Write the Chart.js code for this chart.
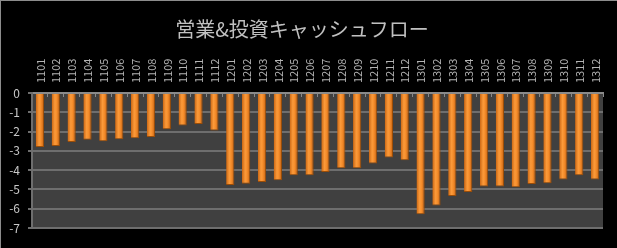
<!DOCTYPE html>
<html><head><meta charset="utf-8">
<script src="https://cdn.jsdelivr.net/npm/chart.js@4/dist/chart.umd.min.js"></script>
<style>
html,body{margin:0;padding:0;background:#000;}
#wrap{width:616px;height:247px;border-top:1px solid #8c8c8c;border-left:1px solid #8c8c8c;background:#000;}
</style></head>
<body><div id="wrap"><canvas id="c" width="616" height="247"></canvas></div>
<script>
const categories = ['1101','1102','1103','1104','1105','1106','1107','1108','1109','1110','1111','1112',
  '1201','1202','1203','1204','1205','1206','1207','1208','1209','1210','1211','1212',
  '1301','1302','1303','1304','1305','1306','1307','1308','1309','1310','1311','1312'];
const cashFlow = [-2.80,-2.75,-2.54,-2.42,-2.50,-2.40,-2.35,-2.28,-1.88,-1.68,-1.61,-1.95,
  -4.77,-4.70,-4.61,-4.53,-4.27,-4.27,-4.09,-3.90,-3.90,-3.65,-3.35,-3.49,
  -6.29,-5.83,-5.34,-5.13,-4.85,-4.85,-4.89,-4.72,-4.68,-4.48,-4.27,-4.48];
const titleText = '営業&投資キャッシュフロー';
const yMin = -7, yMax = 0;

const plotBg = {
  id:'plotBg',
  beforeDraw(chart){
    const {ctx, chartArea:a} = chart;
    ctx.save(); ctx.fillStyle='#404040';
    ctx.fillRect(a.left,a.top,a.right-a.left,a.bottom-a.top);
    ctx.restore();
  }
};

// vertical category labels above the top axis, placed via the x scale
const vLabels = {
  id:'vLabels',
  afterDraw(chart){
    const xs = chart.scales.x, ctx = chart.ctx;
    ctx.save();
    ctx.fillStyle = '#b4b4b4';
    ctx.font = '11px "Noto Sans CJK JP"';
    ctx.textAlign = 'left';
    ctx.textBaseline = 'middle';
    chart.data.labels.forEach((lab,i)=>{
      const x = xs.getPixelForValue(i);
      ctx.save();
      ctx.translate(x+0.5, xs.bottom - 10);
      ctx.rotate(-Math.PI/2);
      ctx.fillText(lab, 0, 0);
      ctx.restore();
    });
    ctx.restore();
  }
};

function barFill(c){
  const chart = c.chart, xs = chart.scales.x;
  if(!xs || !chart.chartArea || c.dataIndex===undefined) return '#e8801a';
  const px = xs.getPixelForValue(c.dataIndex);
  const g = chart.ctx.createLinearGradient(px-4.5,0,px+4.5,0);
  g.addColorStop(0,'#c4600e');
  g.addColorStop(0.4,'#fb9a3a');
  g.addColorStop(0.6,'#f68e2c');
  g.addColorStop(1,'#bd5a0c');
  return g;
}

new Chart(document.getElementById('c'), {
  type:'bar',
  data:{ labels:categories, datasets:[{ data:cashFlow, backgroundColor:barFill,
    borderColor:'#9a4d08', borderWidth:{left:0,right:1,bottom:1,top:0}, barPercentage:0.52, categoryPercentage:1 }]},
  options:{
    responsive:false, animation:false,
    layout:{padding:{left:0,right:14,top:0,bottom:20}},
    plugins:{
      legend:{display:false}, tooltip:{enabled:false},
      title:{display:true, text:titleText, color:'#c0c0c0',
        font:{family:'"Noto Sans CJK JP"', size:20, weight:'normal'}, padding:{top:16,bottom:10}}
    },
    scales:{
      x:{ position:'top', offset:true,
        grid:{display:true, drawOnChartArea:false, drawTicks:true, tickLength:-4, color:'#8a8a8a', offset:true},
        border:{display:true, color:'#8a8a8a', width:2},
        ticks:{display:false},
        afterFit(s){ s.height = 42; }
      },
      y:{ min:yMin, max:yMax,
        ticks:{stepSize:1, color:'#c8c8c8', padding:8, font:{family:'"Noto Sans CJK JP"', size:12}},
        grid:{color:'#6e6e6e', lineWidth:2, tickLength:4, drawTicks:true},
        border:{display:true, color:'#6e6e6e', width:2},
        afterFit(s){ s.width = 31; }
      }
    }
  },
  plugins:[plotBg, vLabels]
});
</script></body></html>
